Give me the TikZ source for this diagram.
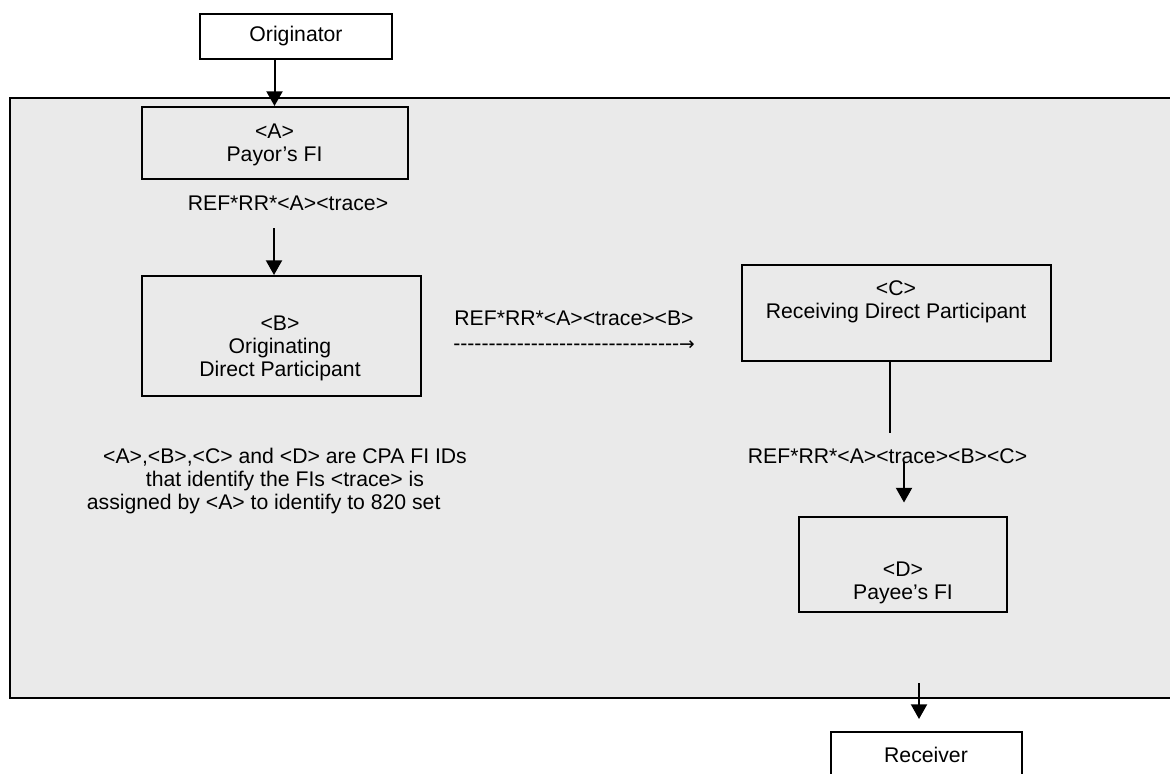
\documentclass[tikz,border=0pt]{standalone}
\usepackage{fontspec}
\setmainfont{Liberation Sans}
\newfontfamily\plainfont{Liberation Sans}
\newfontfamily\symfont{DejaVu Sans}
\usetikzlibrary{arrows.meta}
\definecolor{panel}{RGB}{234,234,234}
\begin{document}
\begin{tikzpicture}[x=0.75pt,y=-0.75pt,
  every node/.style={font=\fontsize{15.9}{17.25}\selectfont},
  box/.style={draw, line width=1.5pt, inner sep=0pt},
  txt/.style={align=center, inner sep=0pt},
  arr/.style={line width=1.5pt, -{Triangle[length=11pt,width=12pt]}},
  ln/.style={line width=1.5pt}]
\useasboundingbox (0,0) rectangle (1170,774);
\clip (0,0) rectangle (1170,774);
\fill[white] (0,0) rectangle (1170,774);
% panel
\node[box, fill=panel, minimum width=882pt, minimum height=450pt, anchor=north west] (panel) at (9,97) {};
% boxes
\node[box, fill=white, minimum width=144pt, minimum height=33.75pt] (orig) at (296,36.5) {};
\node[box, minimum width=199.5pt, minimum height=54pt] (A) at (274.5,143) {};
\node[box, minimum width=209.25pt, minimum height=90pt] (B) at (281.5,336) {};
\node[box, minimum width=231.75pt, minimum height=72pt] (C) at (896.5,313) {};
\node[box, minimum width=156pt, minimum height=71.25pt] (D) at (903,564) {};
\node[box, fill=white, minimum width=143.25pt, minimum height=42pt] (recv) at (926.5,760) {};
% texts
\node[txt] (origT) at (296,36) {Originator};
\node[txt] (AT) at (274.5,144.5) {<A>\\Payor’s FI};
\node[txt] (ref1) at (288,203) {REF*RR*<A><trace>};
\node[txt] (BT) at (280,348.5) {<B>\\Originating\\Direct Participant};
\node[txt] (ref2) at (574,318) {REF*RR*<A><trace><B>};
\node[txt, anchor=west] (dash) at (453,346) {\plainfont --------------------------------{\symfont\fontsize{14}{14}\selectfont →}};
\node[txt] (CT) at (896,302) {<C>\\Receiving Direct Participant};
\node[txt] (ref3) at (887.5,456) {REF*RR*<A><trace><B><C>};
\node[txt] (DT) at (903,582.5) {<D>\\Payee’s FI};
\node[txt] (note) at (285,481) {<A>,<B>,<C> and <D> are CPA FI IDs\\that identify the FIs <trace> is\hspace*{26pt}\\assigned by <A> to identify to 820 set\hspace*{32pt}};
\node[txt] (recvT) at (926,755) {Receiver};
% connectors
\draw[arr] (A.north |- orig.south) -- (A.north);
\coordinate (a1) at (274,228);
\draw[arr] (a1) -- (a1 |- B.north);
\coordinate (c1) at (890,433);
\draw[ln] (c1 |- C.south) -- (c1);
\coordinate (d1) at (904,462);
\draw[arr, shorten >=9.75pt] (d1) -- (d1 |- D.north);
\coordinate (r1) at (919,683);
\draw[arr, shorten >=9pt] (r1) -- (r1 |- recv.north);
\end{tikzpicture}
\end{document}
